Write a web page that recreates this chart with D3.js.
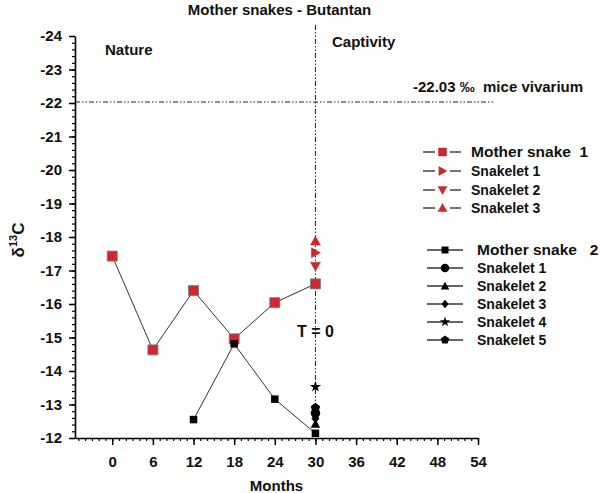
<!DOCTYPE html>
<html>
<head>
<meta charset="utf-8">
<script src="https://cdn.jsdelivr.net/npm/d3@7"></script>
<style>
  html, body { margin: 0; padding: 0; background: #fff; }
  svg { display: block; font-family: "Liberation Sans", Arial, sans-serif; font-weight: bold; }
</style>
</head>
<body>
<svg id="chart" width="600" height="493"></svg>
<script>
// ---------- data ----------
const title = "Mother snakes - Butantan";
const xTickValues = [0, 6, 12, 18, 24, 30, 36, 42, 48, 54];
const yTickValues = [-24, -23, -22, -21, -20, -19, -18, -17, -16, -15, -14, -13, -12];

const mother1Months = [0, 6, 12, 18, 24, 30];
const mother1Values = [-17.43, -14.63, -16.40, -14.96, -16.04, -16.60];

const mother2Months = [12, 18, 24, 30];
const mother2Values = [-12.55, -14.81, -13.16, -12.14];

const snakelets1Names = ["Snakelet 1", "Snakelet 2", "Snakelet 3"];
const snakelets1Values = [-17.53, -17.13, -17.88];
const snakelets1Shapes = ["triRight", "triDown", "triUp"];

const snakelets2Names = ["Snakelet 1", "Snakelet 2", "Snakelet 3", "Snakelet 4", "Snakelet 5"];
const snakelets2Values = [-12.74, -12.42, -12.58, -13.53, -12.90];
const snakelets2Shapes = ["circle", "triUp", "diamond", "star", "pentagon"];

const captivityMonth = 30;
const miceVivarium = -22.03;

// ---------- scales ----------
const svg = d3.select("#chart");
const x = d3.scaleLinear().domain([-5.5, 54]).range([75, 478]);
const y = d3.scaleLinear().domain([-24, -12]).range([36, 438]);
const red = "#d3262c";

// marker shape paths (size = approx width in px)
function shapePath(type, s) {
  const h = s / 2;
  switch (type) {
    case "square": return `M${-h},${-h}H${h}V${h}H${-h}Z`;
    case "triUp": return `M0,${-h}L${h},${h * 0.8}L${-h},${h * 0.8}Z`;
    case "triDown": return `M0,${h}L${h},${-h * 0.8}L${-h},${-h * 0.8}Z`;
    case "triRight": return `M${h},0L${-h * 0.8},${h}L${-h * 0.8},${-h}Z`;
    case "diamond": return `M0,${-h}L${h * 0.85},0L0,${h}L${-h * 0.85},0Z`;
    case "circle": return d3.symbol(d3.symbolCircle, Math.PI * h * h)();
    case "star": return d3.symbol(d3.symbolStar, s * s * 0.45)();
    case "pentagon": {
      const pts = d3.range(5).map(i => {
        const a = -Math.PI / 2 + i * 2 * Math.PI / 5;
        return [Math.cos(a) * h * 1.05, Math.sin(a) * h * 1.05];
      });
      return "M" + pts.map(p => p.join(",")).join("L") + "Z";
    }
  }
}

// ---------- axes ----------
const xAxisY = y(-12);
const yAxisX = x(-5.5);

// minor x ticks
svg.append("g").attr("transform", `translate(0,${xAxisY})`)
  .call(d3.axisBottom(x).tickValues(d3.range(-5, 55, 1)).tickSize(3).tickSizeOuter(0).tickFormat(""))
  .call(g => g.select(".domain").remove())
  .call(g => g.selectAll("line").attr("stroke", "#000").attr("stroke-width", 1.2));
// major x ticks
svg.append("g").attr("transform", `translate(0,${xAxisY})`)
  .call(d3.axisBottom(x).tickValues(xTickValues).tickSize(7).tickSizeOuter(0).tickPadding(11).tickFormat(d => String(d)))
  .call(g => g.select(".domain").attr("stroke", "#000").attr("stroke-width", 1.6))
  .call(g => g.selectAll("line").attr("stroke", "#000").attr("stroke-width", 1.5))
  .call(g => g.selectAll("text").attr("font-size", 15).attr("font-weight", "bold")
    .attr("font-family", "Liberation Sans, Arial, sans-serif").attr("fill", "#111"));

// minor y ticks
svg.append("g").attr("transform", `translate(${yAxisX},0)`)
  .call(d3.axisLeft(y).tickValues(d3.range(0, 61).map(i => -24 + i * 0.2)).tickSize(3).tickSizeOuter(0).tickFormat(""))
  .call(g => g.select(".domain").remove())
  .call(g => g.selectAll("line").attr("stroke", "#000").attr("stroke-width", 1.2));
// major y ticks
svg.append("g").attr("transform", `translate(${yAxisX},0)`)
  .call(d3.axisLeft(y).tickValues(yTickValues).tickSize(6).tickSizeOuter(0).tickPadding(7).tickFormat(d => String(d)))
  .call(g => g.select(".domain").attr("stroke", "#000").attr("stroke-width", 1.6))
  .call(g => g.selectAll("line").attr("stroke", "#000").attr("stroke-width", 1.5))
  .call(g => g.selectAll("text").attr("font-size", 15).attr("font-weight", "bold")
    .attr("font-family", "Liberation Sans, Arial, sans-serif").attr("fill", "#111"));

// axis titles
svg.append("text").attr("x", (x(-5.5) + x(54)) / 2).attr("y", 491)
  .attr("text-anchor", "middle").attr("font-size", 15).attr("fill", "#111").text("Months");

const yt = svg.append("text").attr("transform", `translate(24,${(y(-24) + y(-12)) / 2 + 3}) rotate(-90)`)
  .attr("text-anchor", "middle").attr("font-size", 17).attr("fill", "#111");
yt.append("tspan").text("δ");
yt.append("tspan").attr("font-size", 11).attr("dy", -7).text("13");
yt.append("tspan").attr("dy", 7).text("C");

// title
svg.append("text").attr("x", (x(-5.5) + x(54)) / 2 + 3).attr("y", 15)
  .attr("text-anchor", "middle").attr("font-size", 15).attr("fill", "#111").text(title);

// ---------- reference lines ----------
const dash = "5,2,1.5,2,1.5,2";
svg.append("line")
  .attr("x1", x(captivityMonth)).attr("x2", x(captivityMonth))
  .attr("y1", 25).attr("y2", y(-12.3))
  .attr("stroke", "#222").attr("stroke-width", 1).attr("stroke-dasharray", dash);
svg.append("line")
  .attr("x1", yAxisX).attr("x2", 493)
  .attr("y1", y(miceVivarium)).attr("y2", y(miceVivarium))
  .attr("stroke", "#222").attr("stroke-width", 1).attr("stroke-dasharray", dash);

svg.append("text").attr("x", 105).attr("y", 55).attr("font-size", 15).attr("fill", "#111").text("Nature");
svg.append("text").attr("x", 332).attr("y", 47).attr("font-size", 15).attr("fill", "#111").text("Captivity");
svg.append("text").attr("x", 413).attr("y", 92).attr("font-size", 15).attr("fill", "#111")
  .style("white-space", "pre").text("-22.03 \u2030  mice vivarium");
svg.append("text").attr("x", x(captivityMonth)).attr("y", 337).attr("text-anchor", "middle")
  .attr("font-size", 16).attr("fill", "#111").style("white-space", "pre").text("T = 0");

// ---------- series ----------
const line = d3.line().x(d => x(d[0])).y(d => y(d[1]));
const m1 = mother1Months.map((m, i) => [m, mother1Values[i]]);
const m2 = mother2Months.map((m, i) => [m, mother2Values[i]]);

svg.append("path").datum(m1).attr("d", line).attr("fill", "none").attr("stroke", "#333").attr("stroke-width", 1);
svg.append("path").datum(m2).attr("d", line).attr("fill", "none").attr("stroke", "#333").attr("stroke-width", 1);

// mother 1 markers
svg.append("g").selectAll("path").data(m1).join("path")
  .attr("transform", d => `translate(${x(d[0])},${y(d[1])})`)
  .attr("d", shapePath("square", 10)).attr("fill", red).attr("stroke", "#777").attr("stroke-width", 0.8);

// snakelets of mother 1
svg.append("g").selectAll("path").data(snakelets1Values).join("path")
  .attr("transform", d => `translate(${x(captivityMonth)},${y(d)})`)
  .attr("d", (d, i) => shapePath(snakelets1Shapes[i], 10)).attr("fill", red).attr("stroke", "#a33").attr("stroke-width", 0.5);

// snakelets of mother 2
svg.append("g").selectAll("path").data(snakelets2Values).join("path")
  .attr("transform", d => `translate(${x(captivityMonth)},${y(d)})`)
  .attr("d", (d, i) => shapePath(snakelets2Shapes[i], 9.5)).attr("fill", "#000");

// mother 2 markers
svg.append("g").selectAll("path").data(m2).join("path")
  .attr("transform", d => `translate(${x(d[0])},${y(d[1])})`)
  .attr("d", shapePath("square", 7.5)).attr("fill", "#000");

// ---------- legends ----------
// legend 1
const leg1Rows = [152, 171, 190, 208];
const leg1Items = [{ name: "Mother snake  1", shape: "square", big: true }]
  .concat(snakelets1Names.map((n, i) => ({ name: n, shape: snakelets1Shapes[i], big: false })));
leg1Items.forEach((it, i) => {
  const yy = leg1Rows[i];
  svg.append("line").attr("x1", 423).attr("x2", 435).attr("y1", yy).attr("y2", yy).attr("stroke", "#444").attr("stroke-width", 1.5);
  svg.append("line").attr("x1", 450).attr("x2", 461).attr("y1", yy).attr("y2", yy).attr("stroke", "#444").attr("stroke-width", 1.5);
  svg.append("path").attr("transform", `translate(442.5,${yy})`).attr("d", shapePath(it.shape, it.big ? 8 : 9))
    .attr("fill", red).attr("stroke", "#a33").attr("stroke-width", 0.5);
  svg.append("text").attr("x", 471).attr("y", yy + 5).attr("font-size", it.big ? 15.5 : 14)
    .attr("fill", "#111").style("white-space", "pre").text(it.name);
});

// legend 2
const leg2Rows = [250, 268, 286, 304, 322, 340];
const leg2Items = [{ name: "Mother snake   2", shape: "square", big: true }]
  .concat(snakelets2Names.map((n, i) => ({ name: n, shape: snakelets2Shapes[i], big: false })));
leg2Items.forEach((it, i) => {
  const yy = leg2Rows[i];
  svg.append("line").attr("x1", 427).attr("x2", 463).attr("y1", yy).attr("y2", yy).attr("stroke", "#333").attr("stroke-width", 1.5);
  svg.append("path").attr("transform", `translate(445,${yy})`).attr("d", shapePath(it.shape, it.big ? 7 : 8.5)).attr("fill", "#000");
  svg.append("text").attr("x", 477).attr("y", yy + 5).attr("font-size", it.big ? 15.5 : 14)
    .attr("fill", "#111").style("white-space", "pre").text(it.name);
});
</script>
</body>
</html>
